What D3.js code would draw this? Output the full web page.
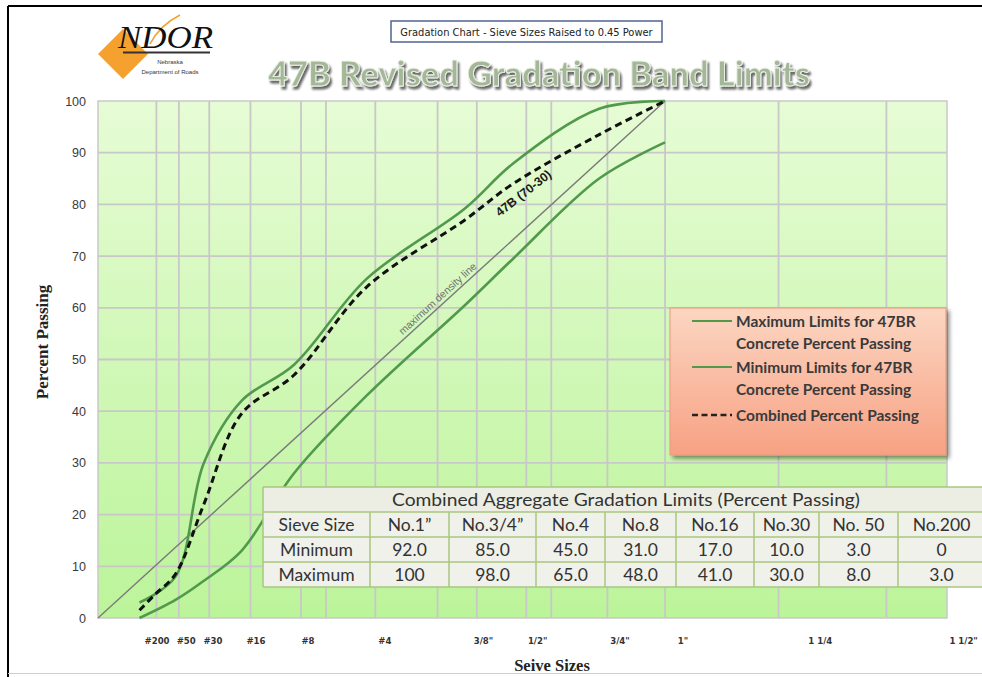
<!DOCTYPE html>
<html><head><meta charset="utf-8">
<script src="https://cdn.jsdelivr.net/npm/d3@7"></script>
<style>
html,body{margin:0;padding:0;background:#fff;}
svg{display:block;}
</style></head>
<body>
<svg id="chart" width="982" height="677"></svg>
<script>
// ---------------- DATA ----------------
// table (specification limits)
const sieveNames  = ["No.200", "No. 50", "No.30", "No.16", "No.8", "No.4", "No.3/4\u201D", "No.1\u201D"];
const minLimits   = [0, 3, 10, 17, 31, 45, 85, 92];
const maxLimits   = [3, 8, 30, 41, 48, 65, 98, 100];
// plotted curves, sieve openings in mm
const curveMM     = [0.075, 0.3, 0.6, 1.18, 2.36, 4.75, 9.5, 12.5, 19, 25];
const maxCurve    = [3, 8, 30, 42, 49, 65.6, 79.2, 87.9, 98.5, 100];
const minCurve    = [0, 3.5, 7.2, 13, 28, 43, 60.5, 69.5, 85, 92];
const combinedMM  = [0.075, 0.15, 0.3, 0.6, 1.18, 2.36, 4.75, 9.5, 12.5, 19, 25];
const combinedPct = [1.5, 4.5, 8.5, 22, 39.5, 47, 64, 77, 84, 93.5, 100];
const densityMM   = [0, 25];
const densityPct  = [0, 100];
const gridMM      = [0.16, 0.33, 0.67, 1.35, 2.55, 3.3, 5.1, 8.0, 10.2, 13.4, 15.2, 19.7, 25, 37.5, 52];
const tickLabels  = ["#200", "#50", "#30", "#16", "#8", "#4", "3/8\"", "1/2\"", "3/4\"", "1\"", "1 1/4", "1 1/2\""];
const tickMM      = [0.164, 0.40, 0.72, 1.46, 2.75, 5.5, 10.6, 14.2, 20.8, 26.8, 42.8, 64];
const yTicks      = [0, 10, 20, 30, 40, 50, 60, 70, 80, 90, 100];
const legendItems = [
  {lines: ["Maximum Limits for 47BR", "Concrete Percent Passing"], type: "max"},
  {lines: ["Minimum Limits for 47BR", "Concrete Percent Passing"], type: "min"},
  {lines: ["Combined Percent Passing"], type: "comb"}
];
const tableTitle = "Combined Aggregate Gradation Limits (Percent Passing)";
const curveLabel = {text: "47B (70-30)", mm: 13.2, pct: 82.2};
const densityLabel = {text: "maximum density line", mm: 8.0, pct: 61.8};

// ---------------- LAYOUT ----------------
const W = 982, H = 677;
const plot = {left: 98, right: 947, top: 101, bottom: 618};
const svg = d3.select("#chart");
const defs = svg.append("defs");

const bg = defs.append("linearGradient").attr("id","plotbg").attr("x1",0).attr("y1",0).attr("x2",0).attr("y2",1);
bg.append("stop").attr("offset","0%").attr("stop-color","#e6fcd5");
bg.append("stop").attr("offset","100%").attr("stop-color","#bcf49a");

const lg = defs.append("linearGradient").attr("id","legbg").attr("x1",0).attr("y1",0).attr("x2",0).attr("y2",1);
lg.append("stop").attr("offset","0%").attr("stop-color","#fcd6c2");
lg.append("stop").attr("offset","100%").attr("stop-color","#f7a183");

const sh = defs.append("filter").attr("id","shadow").attr("x","-10%").attr("y","-10%").attr("width","130%").attr("height","130%");
sh.append("feGaussianBlur").attr("in","SourceAlpha").attr("stdDeviation",2);
sh.append("feOffset").attr("dx",3).attr("dy",3).attr("result","ob");
sh.append("feComponentTransfer").append("feFuncA").attr("type","linear").attr("slope",0.45);
const m1 = sh.append("feMerge"); m1.append("feMergeNode"); m1.append("feMergeNode").attr("in","SourceGraphic");

const tsh = defs.append("filter").attr("id","tshadow").attr("x","-5%").attr("y","-20%").attr("width","115%").attr("height","150%");
tsh.append("feGaussianBlur").attr("in","SourceAlpha").attr("stdDeviation",1.2);
tsh.append("feOffset").attr("dx",2).attr("dy",2.5);
tsh.append("feComponentTransfer").append("feFuncA").attr("type","linear").attr("slope",0.6);
const m2 = tsh.append("feMerge"); m2.append("feMergeNode"); m2.append("feMergeNode").attr("in","SourceGraphic");

// frame
svg.append("line").attr("x1",8).attr("x2",W).attr("y1",6).attr("y2",6).attr("stroke","#000").attr("stroke-width",2);
svg.append("line").attr("x1",8).attr("x2",8).attr("y1",6).attr("y2",H).attr("stroke","#000").attr("stroke-width",2);
svg.append("line").attr("x1",8).attr("x2",W).attr("y1",673.5).attr("y2",673.5).attr("stroke","#cfcfcf").attr("stroke-width",1);

// scales: sieve opening raised to the 0.45 power
const x = d3.scalePow().exponent(0.45).domain([0, 61.3]).range([plot.left, plot.right]);
const y = d3.scaleLinear().domain([0, 100]).range([plot.bottom, plot.top]);

// plot background
svg.append("rect").attr("x",plot.left).attr("y",plot.top).attr("width",plot.right-plot.left).attr("height",plot.bottom-plot.top)
  .attr("fill","url(#plotbg)").attr("stroke","#c9c9c9").attr("stroke-width",1.5);

// grid
const grid = svg.append("g");
grid.selectAll("line.h").data(yTicks.filter(d=>d>0 && d<100)).join("line")
  .attr("x1",plot.left).attr("x2",plot.right).attr("y1",d=>y(d)).attr("y2",d=>y(d))
  .attr("stroke","#c8c8c8").attr("stroke-width",1.8);
grid.selectAll("line.v").data(gridMM).join("line")
  .attr("x1",d=>x(d)).attr("x2",d=>x(d)).attr("y1",plot.top).attr("y2",plot.bottom)
  .attr("stroke","#c8c8c8").attr("stroke-width",1.8);

// y axis labels
const yAxis = d3.axisLeft(y).tickValues(yTicks).tickSize(0).tickPadding(12);
const ya = svg.append("g").attr("transform",`translate(${plot.left},0)`).call(yAxis);
ya.select(".domain").remove();
ya.selectAll("text").attr("font-family","Liberation Sans, Arial, sans-serif").attr("font-size",12.5).attr("fill","#3a3a3a");

// x axis labels
const xa = svg.append("g");
xa.selectAll("text").data(tickLabels).join("text")
  .attr("x",(d,i)=>x(tickMM[i])).attr("y",644)
  .attr("text-anchor","middle")
  .attr("font-family","Liberation Sans Narrow, DejaVu Sans Condensed, Arial Narrow, sans-serif")
  .attr("font-size",9.5).attr("font-weight","bold").attr("fill","#333")
  .text(d=>d);

// axis titles
svg.append("text").attr("transform","translate(48,342) rotate(-90)").attr("text-anchor","middle")
  .attr("font-family","Liberation Serif, Times New Roman, serif").attr("font-weight","bold").attr("font-size",17).attr("fill","#222")
  .text("Percent Passing");
svg.append("text").attr("x",552).attr("y",671).attr("text-anchor","middle")
  .attr("font-family","Liberation Serif, Times New Roman, serif").attr("font-weight","bold").attr("font-size",16.5).attr("fill","#222")
  .text("Seive Sizes");

// lines
const line = d3.line().x(d=>x(d[0])).y(d=>y(d[1])).curve(d3.curveCatmullRom.alpha(0.5));
const green = "#519a4c";
svg.append("path").datum(densityMM.map((d,i)=>[d,densityPct[i]])).attr("d",d3.line().x(d=>x(d[0])).y(d=>y(d[1])))
  .attr("fill","none").attr("stroke","#7a7a7a").attr("stroke-width",1.4);
svg.append("path").datum(curveMM.map((d,i)=>[d,maxCurve[i]])).attr("d",line)
  .attr("fill","none").attr("stroke",green).attr("stroke-width",2.6);
svg.append("path").datum(curveMM.map((d,i)=>[d,minCurve[i]])).attr("d",line)
  .attr("fill","none").attr("stroke",green).attr("stroke-width",2.6);
svg.append("path").datum(combinedMM.map((d,i)=>[d,combinedPct[i]])).attr("d",line)
  .attr("fill","none").attr("stroke","#111").attr("stroke-width",3).attr("stroke-dasharray","7,4.5");

// line labels
const angD = Math.atan2(y(100)-y(0), x(25)-x(0))*180/Math.PI;
svg.append("text").attr("transform",`translate(${x(densityLabel.mm)},${y(densityLabel.pct)}) rotate(${angD})`)
  .attr("text-anchor","middle").attr("dy","0.35em")
  .attr("font-family","Liberation Sans, Arial, sans-serif").attr("font-size",10.5).attr("fill","#707070")
  .text(densityLabel.text);
svg.append("text").attr("transform",`translate(${x(curveLabel.mm)},${y(curveLabel.pct)}) rotate(-38)`)
  .attr("text-anchor","middle").attr("dy","0.35em")
  .attr("font-family","Liberation Sans, Arial, sans-serif").attr("font-weight","bold").attr("font-size",12.5).attr("fill","#1a1a1a")
  .text(curveLabel.text);

// legend
const leg = svg.append("g").attr("transform","translate(670,308)");
leg.append("rect").attr("width",276).attr("height",147).attr("fill","url(#legbg)").attr("stroke","#e89a7c").attr("stroke-width",1).attr("filter","url(#shadow)");
const legRowY = [13, 59, 107];
legendItems.forEach((it,k)=>{
  const ly = legRowY[k];
  const g = leg.append("g");
  const ln = g.append("line").attr("x1",22).attr("x2",62).attr("y1",ly).attr("y2",ly);
  if (it.type==="comb") ln.attr("stroke","#222").attr("stroke-width",2.6).attr("stroke-dasharray","6,3.5");
  else ln.attr("stroke",green).attr("stroke-width",2.2);
  it.lines.forEach((t,j)=>{
    g.append("text").attr("x",66).attr("y",ly + j*22).attr("dy","0.36em")
      .attr("font-family","Lato, Open Sans, sans-serif").attr("font-weight","bold").attr("font-size",15.5).attr("fill","#3a3a3a")
      .text(t);
  });
});

// table
const colW = [107, 79, 87, 69, 71, 78, 65, 79, 87];
const tx0 = 263, ty0 = 487, rh = 25;
const colX = [tx0]; colW.forEach(w=>colX.push(colX[colX.length-1]+w));
const tbl = svg.append("g");
const fmt = v => (v===0||v===100) ? String(v) : v.toFixed(1);
const rev = a => a.slice().reverse();
const rows = [
  ["Sieve Size"].concat(rev(sieveNames)),
  ["Minimum"].concat(rev(minLimits).map(fmt)),
  ["Maximum"].concat(rev(maxLimits).map(fmt))
];
const tW = colX[colX.length-1]-tx0;
tbl.append("rect").attr("x",tx0).attr("y",ty0).attr("width",tW).attr("height",rh*4).attr("fill","#f0f1ea");
tbl.append("rect").attr("x",tx0).attr("y",ty0).attr("width",tW).attr("height",rh).attr("fill","#eceee4");
const bc = "#a9c77f";
for (let r=0;r<=4;r++) tbl.append("line").attr("x1",tx0).attr("x2",tx0+tW).attr("y1",ty0+r*rh).attr("y2",ty0+r*rh).attr("stroke",bc).attr("stroke-width",1.5);
colX.forEach((cx,i)=>tbl.append("line").attr("x1",cx).attr("x2",cx).attr("y1",i===0||i===colX.length-1?ty0:ty0+rh).attr("y2",ty0+4*rh).attr("stroke",bc).attr("stroke-width",1.5));
tbl.append("text").attr("x",626).attr("y",ty0+rh/2).attr("dy","0.36em").attr("text-anchor","middle")
  .attr("textLength",468).attr("lengthAdjust","spacingAndGlyphs")
  .attr("font-family","Lato, Open Sans, sans-serif").attr("font-size",17.5).attr("fill","#333").text(tableTitle);
rows.forEach((row,ri)=>{
  row.forEach((t,ci)=>{
    tbl.append("text").attr("x",(colX[ci]+colX[ci+1])/2).attr("y",ty0+rh*(ri+1)+rh/2).attr("dy","0.36em")
      .attr("text-anchor","middle").attr("font-family","Lato, Open Sans, sans-serif").attr("font-size",17.5).attr("fill","#333").text(t);
  });
});

// title box
svg.append("rect").attr("x",391).attr("y",21).attr("width",271).attr("height",21).attr("fill","#fff").attr("stroke","#50648f").attr("stroke-width",1.5);
svg.append("text").attr("x",526.5).attr("y",35.5).attr("text-anchor","middle")
  .attr("font-family","Liberation Sans Narrow, DejaVu Sans Condensed, sans-serif").attr("font-size",11).attr("fill","#222")
  .text("Gradation Chart - Sieve Sizes Raised to 0.45 Power");

// big title
svg.append("text").attr("x",268).attr("y",86).attr("textLength",542).attr("lengthAdjust","spacingAndGlyphs")
  .attr("font-family","Lato, DejaVu Sans, sans-serif").attr("font-weight","900").attr("font-size",35)
  .attr("fill","#a4b898").attr("stroke","#eef3ea").attr("stroke-width",0.9).attr("filter","url(#tshadow)")
  .text("47B Revised Gradation Band Limits");

// logo
const logo = svg.append("g");
logo.append("path").attr("d","M98,54 L123,29 L148,54 L123,79 Z").attr("fill","#f5a12f");
logo.append("path").attr("d","M150,44 Q160,25 180,15").attr("fill","none").attr("stroke","#f5a12f").attr("stroke-width",1.6);
logo.append("text").attr("x",118).attr("y",48).attr("font-family","Liberation Serif, Times New Roman, serif").attr("font-style","italic")
  .attr("font-size",31).attr("fill","#111").attr("textLength",95).attr("lengthAdjust","spacingAndGlyphs").text("NDOR");
logo.append("line").attr("x1",123).attr("x2",210).attr("y1",52.5).attr("y2",52.5).attr("stroke","#333").attr("stroke-width",2);
logo.append("text").attr("x",170).attr("y",64).attr("text-anchor","middle").attr("font-family","Liberation Sans, Arial, sans-serif").attr("font-size",6).attr("fill","#333").text("Nebraska");
logo.append("text").attr("x",170).attr("y",74).attr("text-anchor","middle").attr("font-family","Liberation Sans, Arial, sans-serif").attr("font-size",6).attr("fill","#333").text("Department of Roads");
</script>
</body></html>
